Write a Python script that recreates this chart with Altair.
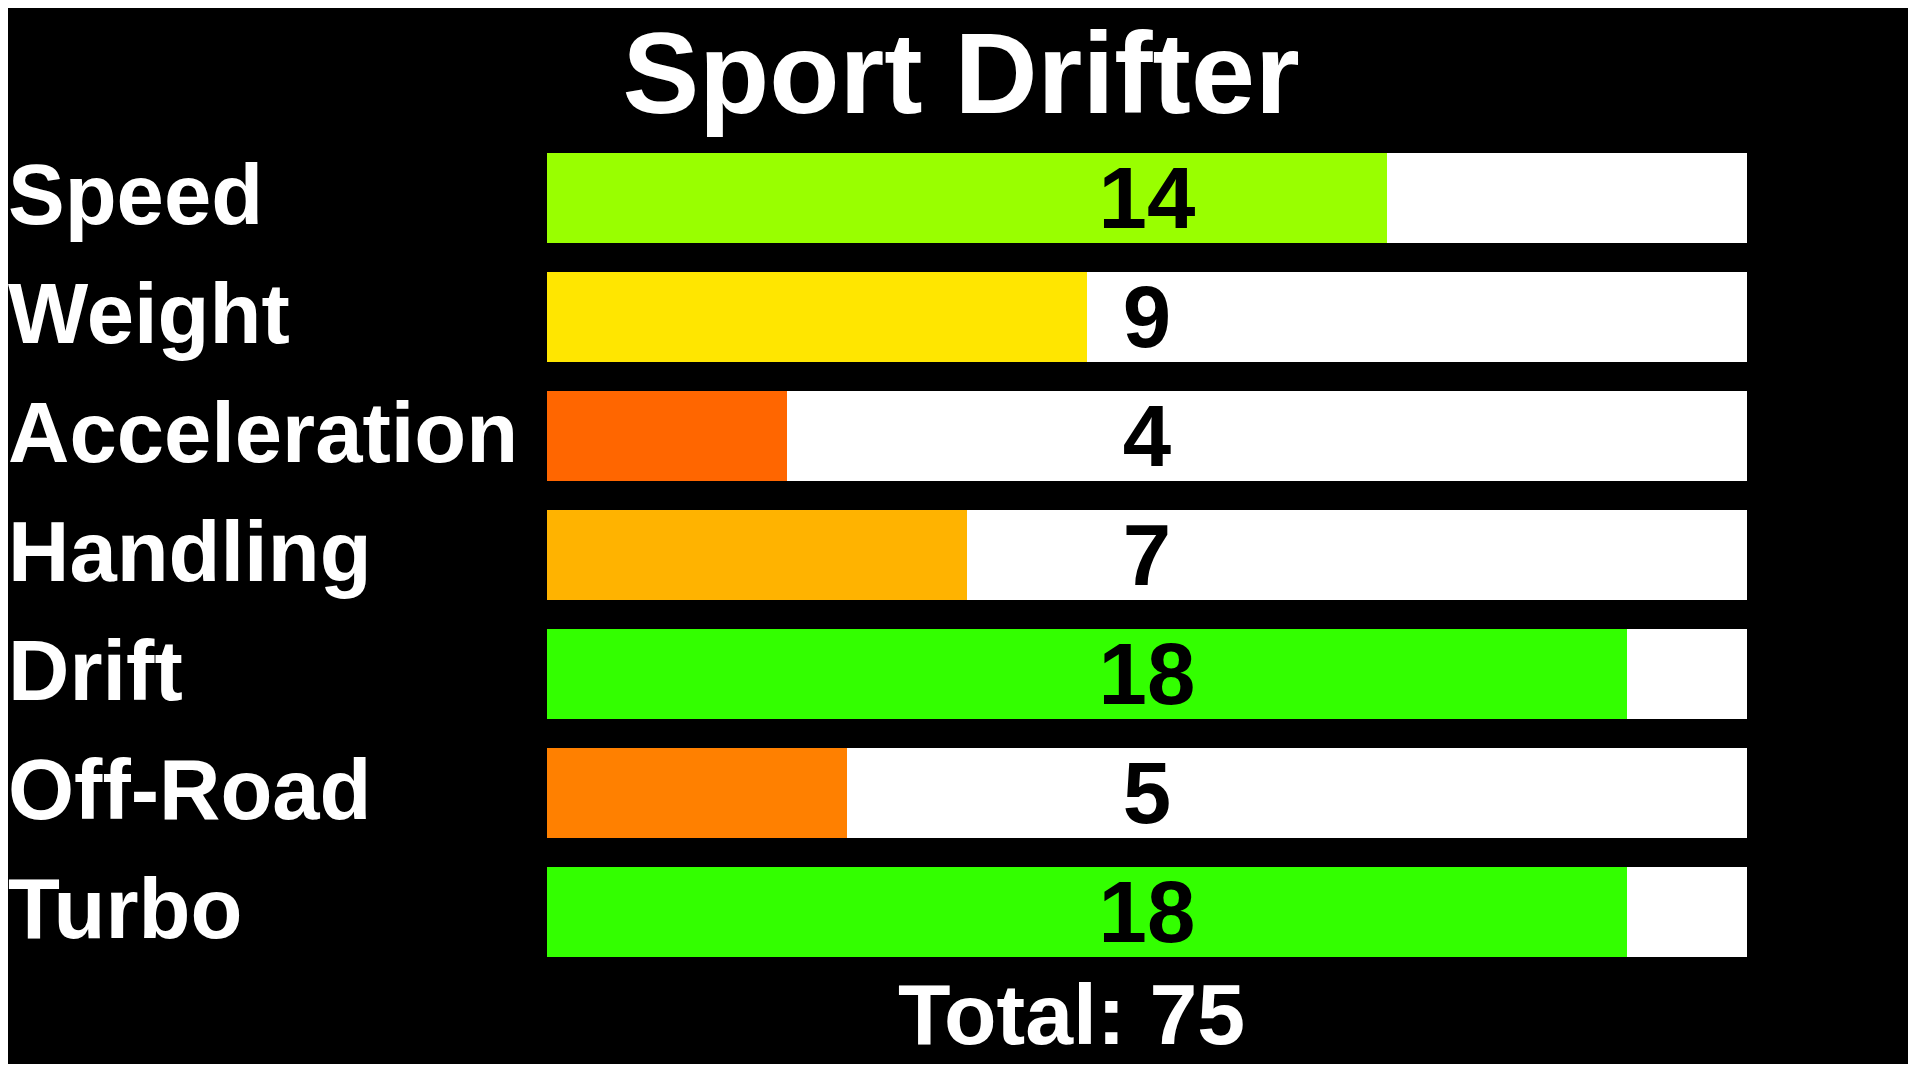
import altair as alt
import pandas as pd

TITLE = "Sport Drifter"
categories = ["Speed", "Weight", "Acceleration", "Handling", "Drift", "Off-Road", "Turbo"]
values = [14, 9, 4, 7, 18, 5, 18]
colors = ["#99FF00", "#FFE600", "#FF6600", "#FFB300", "#33FF00", "#FF8000", "#33FF00"]
MAX_VALUE = 20
TOTAL_LABEL = f"Total: {sum(values)}"

FONT = "Liberation Sans"
W, H = 1900, 1056

df = pd.DataFrame({
    "stat": categories,
    "value": values,
    "color": colors,
})
df["max"] = MAX_VALUE
df["mid"] = MAX_VALUE / 2

x_scale = alt.Scale(domain=[0, MAX_VALUE], range=[539, 1739], nice=False, zero=True)
y_scale = alt.Scale(domain=categories, range=[130.5, 963.5],
                    paddingInner=0.244, paddingOuter=0.122)

base = alt.Chart(df).encode(y=alt.Y("stat:N", scale=y_scale, axis=None))

track = base.mark_bar(color="white", strokeWidth=0).encode(
    x=alt.X("max:Q", scale=x_scale, axis=None)
)
fill = base.mark_bar(strokeWidth=0).encode(
    x=alt.X("value:Q", scale=x_scale, axis=None),
    color=alt.Color("color:N", scale=None, legend=None),
)
vals = base.mark_text(font=FONT, fontSize=87, fontWeight="bold", color="black",
                      align="center", baseline="middle", dy=4).encode(
    x=alt.X("mid:Q", scale=x_scale, axis=None),
    text="value:Q",
)
labels = base.mark_text(font=FONT, fontSize=85, fontWeight="bold", color="white",
                        align="left", baseline="middle").encode(
    x=alt.value(0),
    text="stat:N",
)
title = alt.Chart(pd.DataFrame({"t": [TITLE]})).mark_text(
    font=FONT, fontSize=115, fontWeight="bold", color="white",
    align="center", baseline="alphabetic").encode(
    x=alt.value(953), y=alt.value(105), text="t:N"
)
total = alt.Chart(pd.DataFrame({"t": [TOTAL_LABEL]})).mark_text(
    font=FONT, fontSize=86, fontWeight="bold", color="white",
    align="center", baseline="alphabetic").encode(
    x=alt.value(1063.5), y=alt.value(1036), text="t:N"
)

chart = alt.layer(track, fill, vals, labels, title, total).properties(
    width=W, height=H,
    autosize=alt.AutoSizeParams(type="none"),
    padding=0,
    background="black",
).configure_view(stroke=None)

chart.save("out.html", embed_options={"renderer": "svg", "actions": False})
